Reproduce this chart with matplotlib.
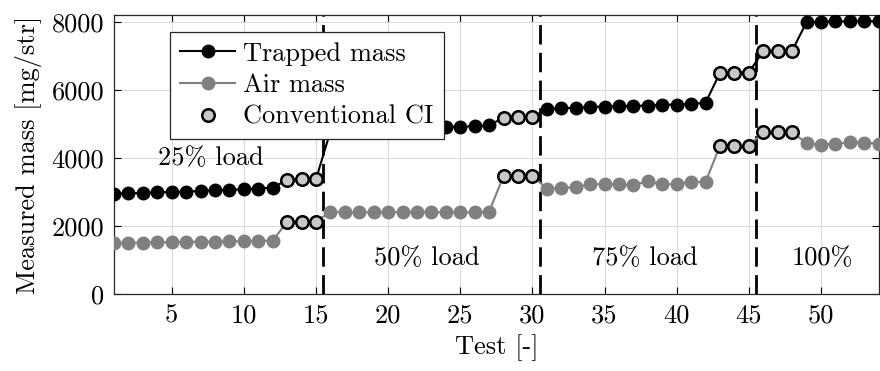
import matplotlib
matplotlib.use('Agg')
import matplotlib.pyplot as plt
import numpy as np

# test number 1..54
tests = list(range(1, 55))

trapped_mass = [2950, 2960, 2970, 2990, 3000, 3010, 3030, 3050, 3060, 3080, 3100, 3130,
                3350, 3370, 3370,
                4780, 4800, 4820, 4840, 4860, 4880, 4890, 4900, 4910, 4920, 4930, 4960,
                5180, 5190, 5190,
                5450, 5460, 5480, 5500, 5510, 5520, 5530, 5540, 5560, 5570, 5590, 5620,
                6500, 6510, 6510,
                7140, 7150, 7150,
                7990, 8000, 8010, 8010, 8020, 8020]

air_mass = [1500, 1500, 1510, 1520, 1520, 1530, 1540, 1540, 1550, 1550, 1560, 1570,
            2120, 2130, 2130,
            2410, 2400, 2400, 2400, 2400, 2410, 2420, 2410, 2400, 2400, 2400, 2420,
            3470, 3470, 3470,
            3100, 3110, 3150, 3220, 3230, 3220, 3200, 3320, 3220, 3230, 3300, 3290,
            4360, 4360, 4360,
            4760, 4760, 4760,
            4430, 4390, 4410, 4460, 4450, 4420]

# tests run with conventional CI
conv_tests = [13, 14, 15, 28, 29, 30, 43, 44, 45, 46, 47, 48]

load_bounds = [15.5, 30.5, 45.5]
load_labels = ['25% load', '50% load', '75% load', '100%']
label_x = [7.7, 22.7, 37.8, 50.1]
label_y = [4000, 1050, 1050, 1050]

plt.rcParams['font.family'] = ['cmr10', 'DejaVu Serif']
plt.rcParams['mathtext.fontset'] = 'cm'
plt.rcParams['axes.unicode_minus'] = False
plt.rcParams['font.size'] = 19

fig = plt.figure(figsize=(8.8, 3.71), dpi=100)
ax = fig.add_axes([0.1295, 0.2075, 0.869, 0.752])

conv_idx = [t - 1 for t in conv_tests]
ax.plot(tests, trapped_mass, '-o', color='black', lw=1.5, ms=9, mec='black', mfc='black',
        label='Trapped mass', zorder=3)
ax.plot(tests, air_mass, '-o', color='#808080', lw=1.5, ms=9, mec='#808080', mfc='#808080',
        label='Air mass', zorder=3)
ax.plot([tests[i] for i in conv_idx], [trapped_mass[i] for i in conv_idx], 'o', ms=9,
        mfc='#c8c8c8', mec='black', mew=1.8, label='Conventional CI', zorder=4)
ax.plot([tests[i] for i in conv_idx], [air_mass[i] for i in conv_idx], 'o', ms=9,
        mfc='#c8c8c8', mec='black', mew=1.8, zorder=4)

for xb in load_bounds:
    ax.axvline(xb, color='black', lw=2, ls=(0, (7, 3)), zorder=2)

for txt, lx, ly in zip(load_labels, label_x, label_y):
    ax.text(lx, ly, txt, ha='center', va='center', fontsize=19)

ax.set_xlim(1, 54)
ax.set_ylim(0, 8200)
ax.set_xticks(range(5, 55, 5))
ax.set_yticks([0, 2000, 4000, 6000, 8000])
ax.grid(True, color='#dcdcdc', lw=0.8)
ax.set_axisbelow(True)
ax.tick_params(direction='in', top=True, right=True, length=5, width=0.8, pad=7)
for s in ax.spines.values():
    s.set_linewidth(0.9)
    s.set_color('#262626')

ax.set_xlabel('Test [-]', fontsize=19, labelpad=5)
ax.set_ylabel('Measured mass [mg/str]', fontsize=19, labelpad=7)

leg = ax.legend(loc='upper left', bbox_to_anchor=(0.073, 0.94), fancybox=False,
                edgecolor='#262626', framealpha=1, fontsize=19, handlelength=2.1,
                borderpad=0.38, labelspacing=0.3, handletextpad=0.3, borderaxespad=0)
leg.get_frame().set_linewidth(0.9)

fig.savefig('out.png', dpi=100)
plt.close(fig)
